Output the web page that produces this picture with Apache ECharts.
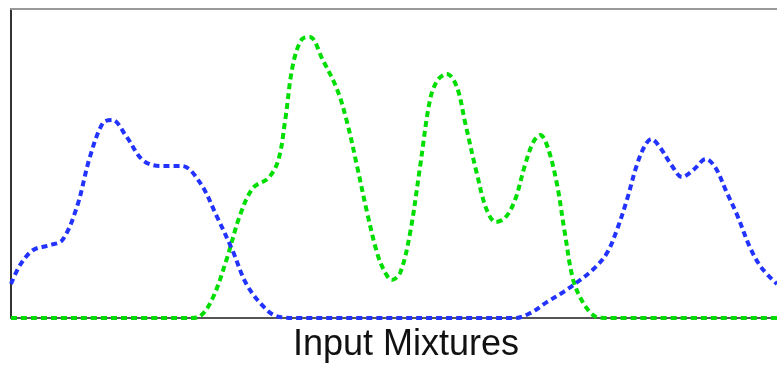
<!DOCTYPE html>
<html>
<head>
<meta charset="utf-8">
<script src="https://cdn.jsdelivr.net/npm/echarts@6/dist/echarts.min.js"></script>
<style>
  html, body { margin: 0; padding: 0; background: #ffffff; }
  #chart { width: 777px; height: 367px; }
</style>
</head>
<body>
<div id="chart"></div>
<script>
// Two source mixtures sampled along a 0–100 position scale (relative intensity 0–1)
const blueX = [0, 1.2, 2.9, 5.1, 6.7, 8.6, 10.3, 12.0, 13.2, 15.1, 17.2, 19.5, 22.3, 24.7, 26.9, 28.9, 30.8, 33.4, 35.1, 37.7,
  65.8, 67.8, 70.0, 72.1, 74.3, 76.2, 77.8, 79.1, 80.4, 81.7, 82.8, 83.6, 84.7, 86.3, 87.6, 89.2, 90.7, 92.0, 93.3, 94.8, 96.5, 98.0, 100];
const blueY = [0.11, 0.172, 0.22, 0.236, 0.252, 0.359, 0.521, 0.631, 0.641, 0.586, 0.511, 0.492, 0.492, 0.437, 0.327, 0.22, 0.107, 0.026, 0.003, 0,
  0, 0.016, 0.052, 0.084, 0.123, 0.162, 0.21, 0.285, 0.382, 0.495, 0.56, 0.579, 0.553, 0.492, 0.456, 0.482, 0.515, 0.485, 0.414, 0.333, 0.227, 0.162, 0.11];

const greenX = [0, 23.4, 24.7, 26.4, 28.2, 29.9, 31.6, 33.6, 34.9, 35.8, 36.8, 38.0, 39.0, 40.7, 42.6, 43.9, 45.2, 46.5, 47.8, 48.8,
  49.7, 50.8, 52.1, 53.4, 54.7, 55.7, 56.9, 58.2, 59.3, 60.8, 62.1, 63.3, 64.5, 65.8, 67.1, 68.2, 69.1, 70.1, 71.3, 72.3, 73.4, 74.7, 76.2, 77.6, 100];
const greenY = [0, 0, 0.006, 0.068, 0.194, 0.333, 0.421, 0.453, 0.511, 0.641, 0.819, 0.903, 0.909, 0.835, 0.738, 0.631, 0.489, 0.34, 0.21, 0.149,
  0.123, 0.146, 0.275, 0.489, 0.706, 0.77, 0.79, 0.748, 0.631, 0.469, 0.35, 0.311, 0.324, 0.382, 0.495, 0.57, 0.592, 0.55, 0.43, 0.275, 0.123, 0.049, 0.006, 0, 0];

const xTitle = 'Input Mixtures';

const pair = (xs, ys) => xs.map((x, i) => [x, ys[i]]);

const chart = echarts.init(document.getElementById('chart'), null, { renderer: 'canvas' });

const dotted = (color) => ({ color: color, width: 4, type: [6, 4], cap: 'butt' });

chart.setOption({
  backgroundColor: '#ffffff',
  animation: false,
  grid: { left: 11, right: 0, top: 9, bottom: 49, containLabel: false },
  xAxis: [
    {
      type: 'value', min: 0, max: 100, position: 'bottom',
      axisLine: { show: true, lineStyle: { color: '#555', width: 2 } },
      axisTick: { show: false }, axisLabel: { show: false }, splitLine: { show: false }
    },
    {
      type: 'value', min: 0, max: 100, position: 'top',
      axisLine: { show: true, lineStyle: { color: '#999', width: 2 } },
      axisTick: { show: false }, axisLabel: { show: false }, splitLine: { show: false }
    }
  ],
  yAxis: {
    type: 'value', min: 0, max: 1,
    axisLine: { show: true, lineStyle: { color: '#333', width: 2 } },
    axisTick: { show: false }, axisLabel: { show: false }, splitLine: { show: false }
  },
  graphic: [{
    type: 'text',
    x: 406,
    y: 327,
    style: {
      text: xTitle,
      font: '36px "Liberation Sans", Arial, sans-serif',
      fill: '#111',
      align: 'center',
      verticalAlign: 'top'
    }
  }],
  series: [
    {
      type: 'line', data: pair(greenX, greenY), smooth: 0.35, showSymbol: false, clip: false,
      lineStyle: dotted('#00dd00'), z: 3
    },
    {
      type: 'line', data: pair(blueX, blueY), smooth: 0.35, showSymbol: false, clip: false,
      lineStyle: dotted('#2233ff'), z: 4
    }
  ]
});
</script>
</body>
</html>
